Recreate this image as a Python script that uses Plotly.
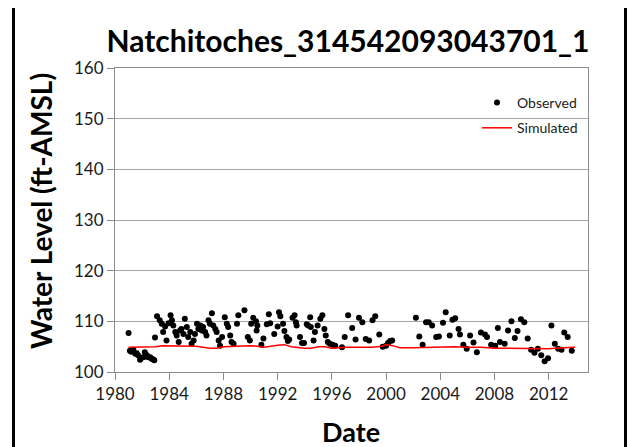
import plotly.graph_objects as go

# Observed water levels (decimal year, ft-AMSL)
obs_year = [
    1981.0, 1981.1, 1981.2, 1981.35, 1981.5, 1981.6, 1981.7, 1981.85, 1981.95, 1982.1,
    1982.2, 1982.35, 1982.45, 1982.6, 1982.7, 1982.8, 1982.9, 1982.95,
    1983.1, 1983.3, 1983.45, 1983.55, 1983.7, 1983.8, 1983.95, 1984.1, 1984.2, 1984.3,
    1984.45, 1984.55, 1984.7, 1984.8, 1984.9, 1985.05, 1985.15, 1985.3, 1985.4, 1985.55,
    1985.65, 1985.8, 1985.9, 1986.05, 1986.15, 1986.3, 1986.4, 1986.5, 1986.65, 1986.75,
    1986.9, 1987.0, 1987.15, 1987.25, 1987.4, 1987.5, 1987.65, 1987.75, 1987.9, 1988.1,
    1988.25, 1988.35, 1988.5, 1988.6, 1988.75, 1989.0, 1989.1, 1989.55, 1989.8, 1989.95,
    1990.05, 1990.2, 1990.4, 1990.45, 1990.5, 1990.8, 1990.95, 1991.2, 1991.35, 1991.45,
    1991.75, 1992.0, 1992.1, 1992.2, 1992.4, 1992.5, 1992.65, 1992.75, 1992.85, 1993.1,
    1993.25, 1993.35, 1993.4, 1993.65, 1993.8, 1993.95, 1994.15, 1994.25, 1994.4, 1994.45,
    1994.65, 1994.75, 1994.95, 1995.15, 1995.3, 1995.45, 1995.55, 1995.7, 1995.85, 1996.05,
    1996.25, 1996.75, 1996.95, 1997.2, 1997.5, 1997.75, 1998.0, 1998.25, 1998.5, 1998.75,
    1999.0, 1999.2, 1999.5, 1999.75, 2000.0, 2000.15, 2000.3, 2000.45,
    2002.2, 2002.45, 2002.7, 2002.95, 2003.15, 2003.4, 2003.7, 2003.9, 2004.2, 2004.4,
    2004.7, 2004.9, 2005.1, 2005.35, 2005.45, 2005.7, 2005.95, 2006.2, 2006.45, 2006.7,
    2007.0, 2007.3, 2007.45, 2007.75, 2008.05, 2008.25, 2008.4, 2008.75, 2009.0, 2009.25,
    2009.5, 2009.7, 2009.95, 2010.2, 2010.45, 2010.7, 2010.95, 2011.2, 2011.45, 2011.7,
    2011.95, 2012.2, 2012.45, 2012.7, 2012.95, 2013.15, 2013.4, 2013.7,
]
obs_level = [
    107.7, 104.2, 104.0, 104.4, 103.6, 103.7, 103.3, 102.4, 102.8, 102.9,
    103.9, 103.3, 102.9, 102.9, 102.6, 102.5, 102.3, 106.8,
    111.0, 110.2, 109.5, 107.9, 109.0, 106.2, 109.6, 111.2, 110.2, 109.2,
    107.9, 107.2, 105.9, 108.2, 108.5, 107.5, 110.5, 108.9, 106.9, 107.9,
    105.6, 106.2, 107.5, 109.5, 108.5, 109.2, 108.2, 108.9, 107.9, 107.2,
    110.2, 109.5, 111.6, 109.2, 108.5, 107.9, 106.2, 105.2, 106.9, 110.8,
    109.5, 108.9, 107.2, 105.9, 105.6, 109.5, 111.2, 112.2, 106.9, 106.2,
    109.5, 110.7, 110.0, 108.2, 109.2, 105.4, 106.6, 109.4, 111.4, 109.6,
    107.5, 109.0, 111.8, 111.0, 109.5, 108.1, 106.9, 106.1, 106.4, 110.7,
    111.2, 109.8, 109.2, 106.9, 105.7, 105.7, 109.4, 109.2, 110.8, 108.9,
    106.2, 107.9, 109.2, 110.5, 111.2, 108.5, 107.2, 105.9, 105.6, 105.4,
    105.2, 104.9, 106.9, 111.2, 108.7, 106.4, 110.7, 109.8, 106.5, 106.2,
    110.2, 111.0, 107.4, 105.0, 105.2, 105.7, 106.1, 106.2,
    110.7, 107.0, 105.4, 109.8, 109.8, 109.2, 106.9, 107.0, 109.7, 111.8,
    107.2, 110.3, 110.6, 108.5, 107.4, 105.4, 104.6, 107.2, 105.8, 103.9,
    107.8, 107.4, 106.9, 105.4, 105.2, 108.7, 105.9, 105.6, 108.2, 110.0,
    106.7, 108.1, 110.4, 109.8, 106.6, 104.4, 103.8, 104.6, 103.3, 102.1,
    102.7, 109.2, 105.6, 104.6, 104.4, 107.8, 106.9, 104.2,
]

# Simulated water levels
sim_year = [
    1981.0, 1982.0, 1983.0, 1983.5, 1984.0, 1985.0, 1986.0, 1987.0, 1987.5, 1988.0,
    1989.0, 1990.0, 1990.5, 1991.0, 1992.0, 1992.5, 1993.0, 1993.5, 1994.0, 1994.5,
    1995.0, 1995.5, 1996.0, 1996.5, 1997.0, 1998.0, 1999.0, 1999.7, 2000.0, 2000.5,
    2001.0, 2002.0, 2003.0, 2004.0, 2005.0, 2006.0, 2007.0, 2008.0, 2009.0, 2010.0,
    2011.0, 2012.0, 2013.0, 2013.95,
]
sim_level = [
    104.9, 104.9, 105.0, 105.2, 105.2, 105.2, 105.1, 104.7, 104.7, 105.0,
    105.1, 105.2, 105.1, 104.9, 105.3, 105.4, 105.0, 104.8, 104.7, 104.7,
    105.0, 105.0, 104.7, 104.8, 104.9, 104.9, 104.9, 105.1, 105.4, 105.2,
    104.8, 104.8, 104.9, 105.0, 105.0, 104.9, 104.9, 104.7, 104.7, 104.6,
    104.6, 104.6, 104.8, 104.9,
]

x_ticks = [1980, 1984, 1988, 1992, 1996, 2000, 2004, 2008, 2012]
y_ticks = [100, 110, 120, 130, 140, 150, 160]

FONT = "Lato"
OFF = 8  # page body margin offset
W, H = 635 - OFF, 447 - OFF
L, T = 115 - OFF, 68 - OFF
PW, PH = 473, 304
R, B = W - L - PW, H - T - PH

def px(xp):
    return (xp - OFF - L) / PW

def py(yp):
    return (T + PH - (yp - OFF)) / PH

fig = go.Figure()
fig.add_trace(go.Scatter(
    x=obs_year, y=obs_level, mode="markers", name="Observed",
    legendgroup="a",
    marker=dict(color="black", size=6),
))
fig.add_trace(go.Scatter(
    x=sim_year, y=sim_level, mode="lines", name="Simulated",
    legendgroup="b",
    line=dict(color="#ff0000", width=1.5),
))

axis_common = dict(
    showline=True, linecolor="#8c8c8c", linewidth=1, mirror=True,
    ticks="outside", ticklen=7, tickcolor="#8c8c8c", tickwidth=1,
    tickfont=dict(family=FONT, size=17, color="#1a1a1a"),
    zeroline=False,
)

fig.update_layout(
    width=W, height=H,
    margin=dict(l=L, r=R, t=T, b=B),
    paper_bgcolor="white", plot_bgcolor="white",
    title=dict(
        text="<b>Natchitoches_314542093043701_1</b>",
        font=dict(family=FONT, size=30, color="black"),
        x=px(348), xref="paper", xanchor="center",
        y=1 - (41 - OFF) / H, yref="container", yanchor="middle",
    ),
    xaxis=dict(range=[1980, 2014.9], tickvals=x_ticks,
               ticktext=[str(v) for v in x_ticks], showgrid=False, **axis_common),
    yaxis=dict(range=[100, 160], tickvals=y_ticks, showgrid=True,
               gridcolor="#a6a6a6", gridwidth=1, **axis_common),
    showlegend=True,
    legend=dict(
        x=px(477), y=py(87), xanchor="left", yanchor="top",
        bgcolor="rgba(0,0,0,0)", borderwidth=0,
        font=dict(family=FONT, size=14, color="#1a1a1a"),
        traceorder="grouped", tracegroupgap=4, itemwidth=30,
    ),
    annotations=[
        dict(text="<b>Water Level (ft-AMSL)</b>", textangle=-90,
             x=px(41), y=py(211), xref="paper", yref="paper",
             xanchor="center", yanchor="middle", showarrow=False,
             font=dict(family=FONT, size=28, color="black")),
        dict(text="<b>Date</b>",
             x=px(351), y=py(431), xref="paper", yref="paper",
             xanchor="center", yanchor="middle", showarrow=False,
             font=dict(family=FONT, size=27, color="black")),
    ],
    shapes=[
        dict(type="rect", xref="paper", yref="paper",
             x0=px(13.5), x1=px(625.5), y0=py(470), y1=py(6),
             line=dict(color="black", width=3), fillcolor="rgba(0,0,0,0)",
             layer="above"),
    ],
)

fig.write_html("out.html")
